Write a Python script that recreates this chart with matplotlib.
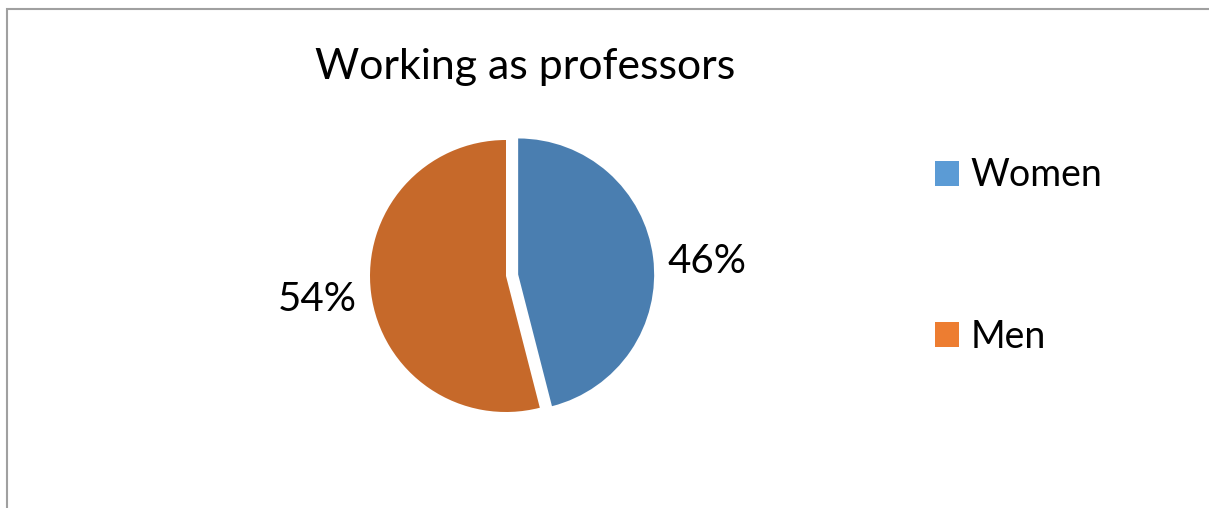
import matplotlib
matplotlib.use("Agg")
import matplotlib.pyplot as plt
from matplotlib.patches import Patch, Rectangle

categories = ["Women", "Men"]
shares = [46, 54]
pie_colors = ["#4A7EB0", "#C6692A"]
legend_colors = ["#5B9BD5", "#ED7D31"]
title = "Working as professors"

plt.rcParams["font.family"] = ["Lato", "DejaVu Sans"]

W, H = 1209, 508
fig = plt.figure(figsize=(W / 100, H / 100), dpi=100)
fig.patch.set_facecolor("white")

# chart-area border (top and left edges visible)
fig.add_artist(Rectangle((7 / W, -0.1), 1.2, (H - 9) / H + 0.1, transform=fig.transFigure,
                         fill=False, edgecolor="#A0A0A0", linewidth=1.5))

# pie axes: center (506, 276) px, radius 136 px
r = 136
half = 1.2 * r
cx, cy = 506, H - 276
ax = fig.add_axes([(cx - half) / W, (cy - half) / H, 2 * half / W, 2 * half / H])

wedges, texts, autotexts = ax.pie(
    shares, colors=pie_colors, startangle=90, counterclock=False,
    explode=[0.09, 0.0], autopct="%.0f%%", pctdistance=1.4,
    wedgeprops=dict(linewidth=0), textprops=dict(fontsize=29, color="#000000"),
)
# nudge the Women percentage slightly downward
x0, y0 = autotexts[0].get_position()
autotexts[0].set_position((x0, y0 - 0.08))
ax.set_xlim(-1.2, 1.2)
ax.set_ylim(-1.2, 1.2)
ax.set_aspect("equal")
ax.axis("off")

fig.text(525 / W, 1 - 67 / H, title, ha="center", va="center", fontsize=30.8, color="#000000")

handles = [Patch(facecolor=c, edgecolor="none") for c in legend_colors]
fig.legend(handles, categories, loc="center left", bbox_to_anchor=(901 / W, 1 - 256 / H),
           frameon=False, fontsize=27, handlelength=0.65, handleheight=0.65,
           handletextpad=0.3, labelspacing=3.35)

fig.savefig("out.png", dpi=100, facecolor="white")
